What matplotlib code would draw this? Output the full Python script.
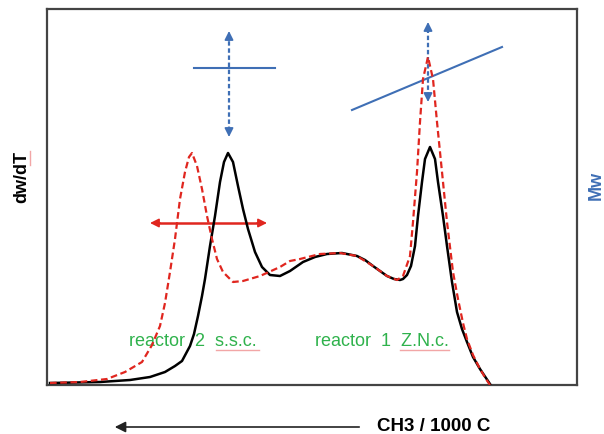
import matplotlib
matplotlib.use("Agg")
import matplotlib.pyplot as plt

plt.rcParams["font.family"] = ["Liberation Sans", "DejaVu Sans"]

# curve data (x = position, y = dw/dT height)
black_x = [50, 100, 130, 150, 165, 175, 182, 190, 194, 198, 202, 205, 210, 215, 220,
           224, 228, 233, 238, 243, 248, 255, 262, 270, 280, 290, 303, 315, 327, 342,
           357, 365, 373, 380, 387, 394, 400, 403, 407, 411, 415, 418, 422, 425, 430,
           435, 438, 443, 447, 452, 457, 462, 467, 473, 480, 486, 490]
black_y = [2, 3, 5, 8, 13, 19, 24, 39, 51, 69, 89, 106, 139, 169, 203,
           223, 232, 223, 199, 176, 156, 133, 118, 110, 109, 114, 123, 128, 131, 132,
           129, 125, 119, 114, 109, 106, 105, 106, 110, 119, 139, 169, 203, 226, 238,
           226, 203, 169, 139, 103, 73, 56, 43, 28, 16, 7, 1]

red_x = [50, 80, 107, 125, 142, 152, 160, 165, 170, 175, 180, 185, 189, 192, 197,
         202, 207, 212, 217, 223, 233, 243, 260, 280, 290, 300, 320, 340, 357, 373,
         387, 397, 403, 410, 413, 417, 420, 423, 428, 433, 437, 442, 447, 453, 458,
         463, 467, 473, 480, 486, 490]
red_y = [2, 3, 6, 13, 23, 40, 59, 82, 113, 146, 186, 213, 228, 232, 219,
         196, 169, 146, 126, 113, 103, 104, 109, 118, 124, 126, 131, 132, 129, 119,
         109, 105, 109, 129, 163, 213, 263, 306, 328, 306, 263, 213, 163, 113, 86,
         62, 46, 30, 16, 6, 0]

label_left = "reactor  2  s.s.c."
label_right = "reactor  1  Z.N.c."

BLUE = "#3f6fb5"
RED = "#e0261f"
GREEN = "#2fb24c"
SQUIGGLE = "#f2a6a6"

fig = plt.figure(figsize=(6.04, 4.35), dpi=100)
ax = fig.add_axes([47 / 604, 49 / 435, 530 / 604, 376 / 435])
ax.set_xlim(47, 577)
ax.set_ylim(0, 376)
ax.set_xticks([])
ax.set_yticks([])
for s in ax.spines.values():
    s.set_color("#444444")
    s.set_linewidth(1.6)

ax.plot(black_x, black_y, color="black", lw=1.8, solid_joinstyle="round", zorder=3)
ax.plot(red_x, red_y, color=RED, lw=1.6, linestyle=(0, (3, 1.6)), zorder=4)


def head(x0, y0, x1, y1, color):
    ax.annotate("", xy=(x1, y1), xytext=(x0, y0),
                arrowprops=dict(arrowstyle="-|>", color=color, lw=1.2,
                                mutation_scale=13, shrinkA=0, shrinkB=0))


# left blue cross
ax.plot([194, 275], [317, 317], color=BLUE, lw=1.5)
ax.plot([229, 229], [254, 350], color=BLUE, lw=1.6, linestyle=(0, (2, 1.2)))
head(229, 345, 229, 354, BLUE)
head(229, 253, 229, 248, BLUE)

# right blue arrow and slanted line
ax.plot([352, 502], [275, 338], color=BLUE, lw=1.5)
ax.plot([428, 428], [288, 358], color=BLUE, lw=1.6, linestyle=(0, (2, 1.2)))
head(428, 355, 428, 363, BLUE)
head(428, 288, 428, 283, BLUE)

# red horizontal double arrow
ax.plot([158, 259], [162, 162], color=RED, lw=1.8)
head(160, 162, 150, 162, RED)
head(257, 162, 267, 162, RED)

ax.text(129, 44, label_left, color=GREEN, fontsize=13, ha="left", va="center")
ax.text(315, 44, label_right, color=GREEN, fontsize=13, ha="left", va="center")
# spell-check underlines
ax.plot([216, 259], [35, 35], color=SQUIGGLE, lw=1)
ax.plot([400, 449], [35, 35], color=SQUIGGLE, lw=1)

fig.text(22 / 604, 1 - 177 / 435, "dw/dT", rotation=90, fontsize=13,
         fontweight="bold", ha="center", va="center")
fig.add_artist(plt.Line2D([30 / 604, 30 / 604], [1 - 166 / 435, 1 - 152 / 435],
                          color=SQUIGGLE, lw=1))
fig.text(596 / 604, 1 - 185 / 435, "Mw", rotation=90, fontsize=13,
         fontweight="bold", color=BLUE, ha="center", va="center")
fig.text(434 / 604, 1 - 427 / 435, "CH3 / 1000 C", fontsize=13.5,
         fontweight="bold", ha="center", va="center")
fig.add_artist(matplotlib.patches.FancyArrowPatch(
    (362 / 604, 1 - 428 / 435), (112 / 604, 1 - 428 / 435),
    transform=fig.transFigure, arrowstyle="-|>", mutation_scale=16,
    color="#222222", lw=1.2))

fig.savefig("out.png", dpi=100)
